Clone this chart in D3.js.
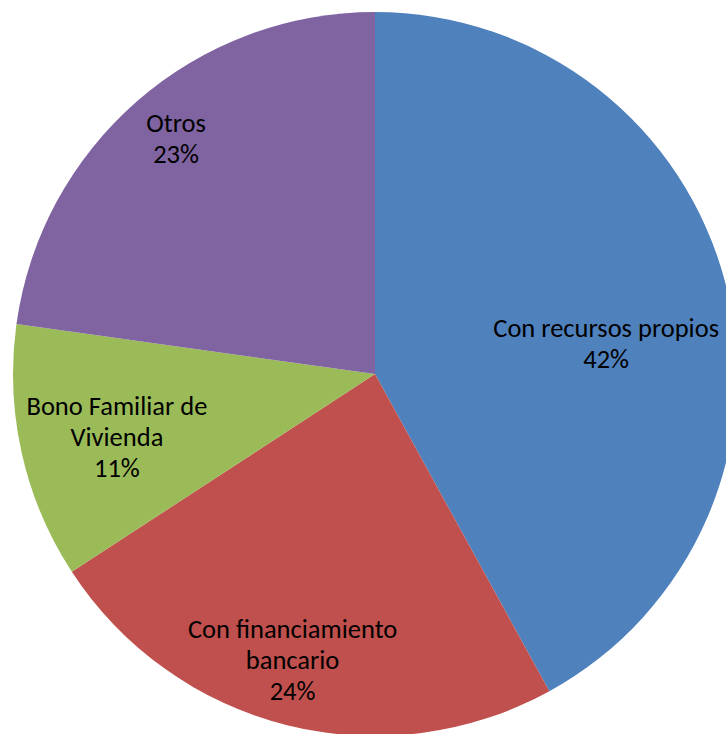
<!DOCTYPE html>
<html>
<head>
<meta charset="utf-8">
<script src="https://cdn.jsdelivr.net/npm/d3@7"></script>
<style>
  html, body { margin: 0; padding: 0; background: #fff; }
  svg { display: block; }
</style>
</head>
<body>
<svg id="chart" width="726" height="734"></svg>
<script>
// ---- data ----
const categories = ["Con recursos propios", "Con financiamiento bancario", "Bono Familiar de Vivienda", "Otros"];
const labelLines = [["Con recursos propios"], ["Con financiamiento", "bancario"], ["Bono Familiar de", "Vivienda"], ["Otros"]];
const values = [42.0, 23.8, 11.4, 22.8];
const colors = ["#4F81BD", "#C0504D", "#9BBB59", "#8064A2"];

// ---- layout (not data) ----
const W = 726, H = 734;
const cx = 375, cy = 374, R = 362;
// label anchor: angle (deg clockwise from top) and distance from centre
const labelAnchor = [{a: 82.8, d: 233}, {a: 196, d: 299}, {a: 256, d: 266}, {a: 319.6, d: 307}];
const lineH = 31;

const svg = d3.select("#chart");
const g = svg.append("g").attr("transform", `translate(${cx},${cy})`);

const pie = d3.pie().sort(null).value(d => d);
const arcs = pie(values);
const arc = d3.arc().innerRadius(0).outerRadius(R);

g.selectAll("path.slice")
  .data(arcs)
  .enter().append("path")
  .attr("class", "slice")
  .attr("d", arc)
  .attr("fill", (d, i) => colors[i]);

const total = d3.sum(values);
const fmt = v => Math.round(v / total * 100) + "%";

arcs.forEach((d, i) => {
  const la = labelAnchor[i];
  const rad = la.a * Math.PI / 180;
  const x = Math.sin(rad) * la.d;
  const y = -Math.cos(rad) * la.d;
  const lines = labelLines[i].concat([fmt(values[i])]);
  const t = g.append("text")
    .attr("text-anchor", "middle")
    .attr("font-family", "Carlito, Calibri, 'Liberation Sans', Arial, sans-serif")
    .attr("font-size", 26.5)
    .attr("fill", "#000");
  const y0 = y - (lines.length - 1) * lineH / 2;
  lines.forEach((ln, j) => {
    t.append("tspan")
      .attr("x", x)
      .attr("y", y0 + j * lineH)
      .attr("dy", "0.28em")
      .text(ln);
  });
});
</script>
</body>
</html>
